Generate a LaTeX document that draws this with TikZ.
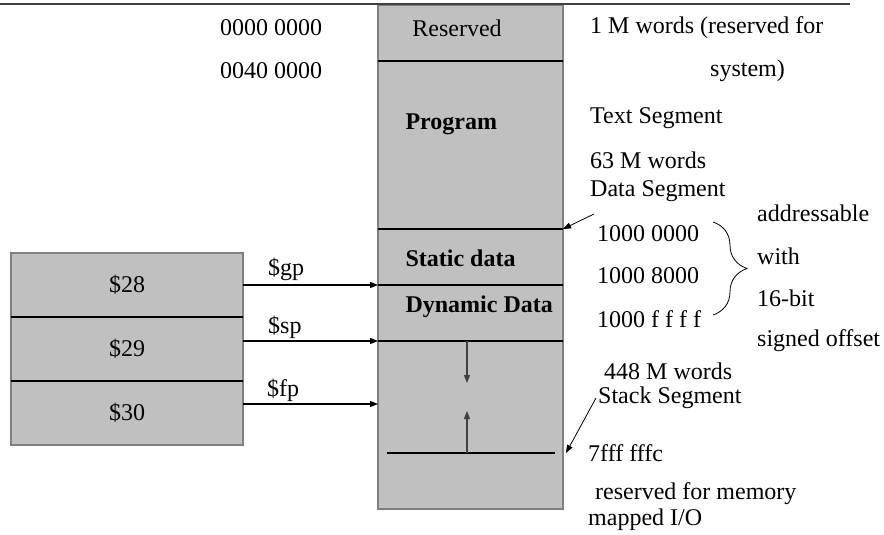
\documentclass[tikz,border=0pt]{standalone}
\usepackage{fontspec}
\setmainfont{Liberation Serif}
\usetikzlibrary{positioning,arrows.meta,decorations.pathreplacing}
\definecolor{segfill}{HTML}{C0C0C0}
\definecolor{edgecol}{HTML}{808080}

\begin{document}
\begin{tikzpicture}[
  x=1pt, y=-1pt,
  font=\fontsize{24}{28}\selectfont,
  node distance=0pt,
  seg/.style={
    draw=edgecol, fill=segfill, line width=1.5pt,
    minimum width=185pt, minimum height=#1, inner sep=0pt, outer sep=0pt,
  },
  reg/.style={
    draw=edgecol, fill=segfill, line width=1.5pt,
    minimum width=232pt, minimum height=64pt, inner sep=0pt, outer sep=0pt,
  },
  divider/.style={line width=1.2pt, draw=black},
  ptr/.style={-{Triangle[length=8pt, width=6pt]}, line width=1.1pt},
  seglabel/.style={font=\fontsize{24}{28}\selectfont\bfseries, anchor=west},
  note/.style={anchor=west, inner sep=2pt},
]

\useasboundingbox (0,0) rectangle (884,535);

% =================== memory column ===================
\node[seg=56pt, anchor=north west] (res) at (378,5) {};
\node[seg=168pt, below=of res] (prog) {};
\node[seg=56pt, below=of prog] (static) {};
\node[seg=56pt, below=of static] (dynamic) {};
\node[seg=168pt, below=of dynamic] (stack) {};

\draw[divider] (res.south west) -- (res.south east);
\draw[divider] (prog.south west) -- (prog.south east);
\draw[divider] (static.south west) -- (static.south east);
\draw[divider] (dynamic.south west) -- (dynamic.south east);

\node (reslab) at (457,28) {Reserved};
\node[seglabel] (proglab) at (402,124) {Program};
\node[seglabel] (staticlab) at (402,258) {Static data};
\node[seglabel] (dynlab) at (402,307) {Dynamic Data};

% stack / heap growth
\coordinate (sbL) at (387,453);
\coordinate (sbR) at (555,453);
\draw[divider] (sbL) -- (sbR);
\draw[ptr, draw=black!75] (dynamic.south -| 467,0) -- ++(0,42);
\draw[ptr, draw=black!75] (sbL -| 467,0) -- ++(0,-42);

% top rule
\draw[line width=1.5pt, draw=black!75] (0,4) -- (850,4);

% =================== registers ===================
\node[reg, anchor=north west] (reg28) at (11,253) {\$28};
\node[reg, below=of reg28] (reg29) {\$29};
\node[reg, below=of reg29] (reg30) {\$30};

\draw[divider] (reg28.south west) -- (reg28.south east);
\draw[divider] (reg29.south west) -- (reg29.south east);

\coordinate (fptip) at (378,404);
\draw[ptr] (reg28.east) -- (static.south west);
\draw[ptr] (reg29.east |- dynamic.south west) -- (dynamic.south west);
\draw[ptr] (reg30.east |- fptip) -- (fptip);

\node[note] (gplab) at (266,269) {\$gp};
\node[note] (splab) at (266,327) {\$sp};
\node[note] (fplab) at (265,390) {\$fp};

% =================== addresses ===================
\node[note] (a0) at (218,28) {0000 0000};
\node[note] (a1) at (218,71) {0040 0000};

\node[note] (n1) at (588,28) {1 M words (reserved for};
\node[note] (n2) at (708,71) {system)};
\node[note] (textseg) at (588,118) {Text Segment};
\node[note] (n63) at (588,160) {63 M words};
\node[note] (dseg) at (588,191) {Data Segment};
\node[note] (d0) at (595,234) {1000 0000};
\node[note] (d1) at (595,276) {1000 8000};
\node[note] (d2) at (595,319) {1000 f f f f};

\node[note] (w1) at (755,213) {addressable};
\node[note] (w2) at (755,256) {with};
\node[note] (w3) at (755,298) {16-bit};
\node[note] (w4) at (755,341) {signed offset};

\node[note] (n448) at (602,371) {448 M words};
\node[note] (sseg) at (596,398) {Stack Segment};
\node[note] (top) at (586,453) {7fff fffc};
\node[note] (io1) at (593,494) {reserved for memory};
\node[note] (io2) at (586,520) {mapped I/O};

% pointers into the column
\coordinate (dsegfoot) at (594,214);
\coordinate (stacktip) at (566,453);
\draw[ptr, line width=0.8pt] (dsegfoot) -- (prog.south east);
\draw[ptr, line width=0.8pt] (sseg.west) -- (stacktip);

% brace
\draw[line width=0.8pt, decorate, decoration={brace, amplitude=34pt}]
  (713,222) -- (713,315);

\end{tikzpicture}
\end{document}
